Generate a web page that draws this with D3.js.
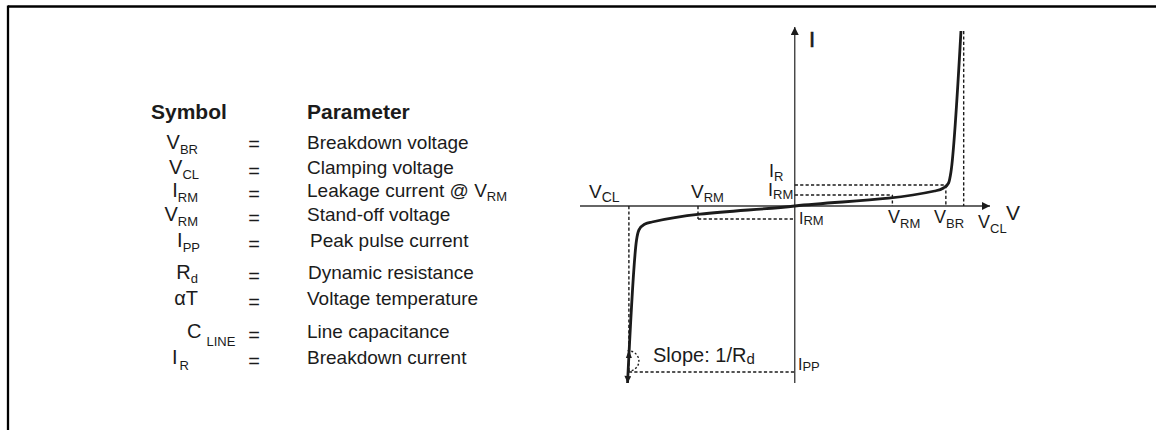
<!DOCTYPE html>
<html><head><meta charset="utf-8">
<script src="https://cdn.jsdelivr.net/npm/d3@7"></script>
<style>
html,body{margin:0;padding:0;background:#fff;}
svg{display:block;font-family:"Liberation Sans",Arial,Helvetica,sans-serif;}
</style></head><body>
<svg id="c" width="1156" height="430"></svg>
<script>
// ---------- table data ----------
const headers = ["Symbol", "Parameter"];
const symbolMain = ["V", "V", "I", "V", "I", "R", "\u03B1T", "C", "I"];
const symbolSub = ["BR", "CL", "RM", "RM", "PP", "d", "", "LINE", "R"];
const parameterText = ["Breakdown voltage", "Clamping voltage", "Leakage current @ V", "Stand-off voltage",
  "Peak pulse current", "Dynamic resistance", "Voltage temperature", "Line capacitance", "Breakdown current"];
const parameterSub = ["", "", "RM", "", "", "", "", "", ""];

// ---------- I-V characteristic (schematic) ----------
const curveV = [-9.85, -9.32, -9.18, -8.82, -8.41, 0, 8.24, 8.76, 9.06, 9.2, 9.79];
const curveI = [-17.7, -3.4, -2.4, -1.8, -1.6, 0, 1.5, 1.8, 2.3, 3.4, 17.5];

// voltage markers
const voltNames = ["V_CL", "V_RM", "V_RM", "V_BR", "V_CL"];
const voltValues = [-9.77, -5.7, 5.75, 8.9, 9.95];
// current markers
const currentNames = ["I_PP", "I_RM", "I_RM", "I_R", "I_MAX"];
const currentValues = [-16.6, -1.3, 1.1, 2.1, 17.5];

// ---------- layout ----------
const svg = d3.select("#c");
const x = d3.scaleLinear().domain([-12.65, 11.5]).range([580, 990]);
const y = d3.scaleLinear().domain([-17.7, 17.9]).range([383, 27]);
const INK = "#1b1b1b";

// frame
svg.append("line").attr("x1", 8).attr("x2", 1156).attr("y1", 6.5).attr("y2", 6.5)
  .attr("stroke", "#000").attr("stroke-width", 2.5);
svg.append("line").attr("x1", 8).attr("x2", 8).attr("y1", 5.5).attr("y2", 430)
  .attr("stroke", "#000").attr("stroke-width", 2.3);

// helper for subscripted text
function subText(g, px, py, main, sub, o) {
  o = Object.assign({size: 18, subSize: 12, dy: 4, anchor: "start", dx: 0, weight: "normal"}, o || {});
  const t = g.append("text").attr("x", px).attr("y", py).attr("text-anchor", o.anchor)
    .attr("font-size", o.size).attr("font-weight", o.weight).attr("fill", INK);
  t.append("tspan").text(main);
  if (sub) t.append("tspan").attr("font-size", o.subSize).attr("dy", o.dy).attr("dx", o.dx).text(sub);
  return t;
}

// ---------- table ----------
const tbl = svg.append("g");
const rowBase = [149, 174, 197, 221, 247, 279, 305, 338, 364];
tbl.append("text").attr("x", 151).attr("y", 119).attr("font-size", 21).attr("font-weight", "bold")
  .attr("fill", INK).text(headers[0]);
tbl.append("text").attr("x", 307).attr("y", 119).attr("font-size", 21).attr("font-weight", "bold")
  .attr("fill", INK).text(headers[1]);
const symLayout = [
  {x: 198, a: "end", dy: 5}, {x: 199, a: "end", dy: 5}, {x: 198, a: "end", dy: 5},
  {x: 198, a: "end", dy: 5}, {x: 200, a: "end", dy: 5}, {x: 198, a: "end", dy: 4},
  {x: 198, a: "end", dy: 0}, {x: 187, a: "start", dy: 8, dx: 5}, {x: 172, a: "start", dy: 6, dx: 2}
];
const paramX = [307, 307, 307, 307, 310, 308, 307, 307, 307];
symbolMain.forEach((s, i) => {
  const L = symLayout[i];
  subText(tbl, L.x, rowBase[i], s, symbolSub[i], {size: 20, subSize: 13, dy: L.dy, anchor: L.a, dx: L.dx || 0});
  tbl.append("text").attr("x", 254).attr("y", rowBase[i] + (i === 0 ? 2 : 4)).attr("text-anchor", "middle")
    .attr("font-size", 20).attr("fill", INK).text("=");
  subText(tbl, paramX[i], rowBase[i], parameterText[i], parameterSub[i], {size: 19, subSize: 13, dy: 4});
});

// ---------- chart ----------
const ch = svg.append("g");
const defs = svg.append("defs");
defs.append("marker").attr("id", "ah").attr("viewBox", "0 0 10 10").attr("refX", 10).attr("refY", 5)
  .attr("markerWidth", 10).attr("markerHeight", 8).attr("markerUnits", "userSpaceOnUse")
  .attr("orient", "auto-start-reverse")
  .append("path").attr("d", "M0,0L10,5L0,10Z").attr("fill", INK);
defs.append("marker").attr("id", "ahs").attr("viewBox", "0 0 10 10").attr("refX", 10).attr("refY", 5)
  .attr("markerWidth", 9).attr("markerHeight", 7).attr("markerUnits", "userSpaceOnUse")
  .attr("orient", "auto-start-reverse")
  .append("path").attr("d", "M0,0L10,5L0,10Z").attr("fill", INK);

// axes
ch.append("line").attr("x1", x(-12.65)).attr("x2", x(11.5)).attr("y1", y(0)).attr("y2", y(0))
  .attr("stroke", "#333").attr("stroke-width", 1.3).attr("marker-end", "url(#ah)");
ch.append("line").attr("x1", x(0)).attr("x2", x(0)).attr("y1", y(-17.7)).attr("y2", y(17.9))
  .attr("stroke", "#333").attr("stroke-width", 1.3).attr("marker-end", "url(#ah)");

// dashed reference lines
const dash = {stroke: INK, "stroke-width": 1.4, "stroke-dasharray": "3.2,2.2", fill: "none"};
function dline(x1, y1, x2, y2) {
  const l = ch.append("line").attr("x1", x1).attr("y1", y1).attr("x2", x2).attr("y2", y2);
  Object.entries(dash).forEach(([k, v]) => l.attr(k, v));
}
dline(x(voltValues[0]), y(0), x(voltValues[0]), y(currentValues[0]));
dline(x(voltValues[0]), y(currentValues[0]), x(0), y(currentValues[0]));
dline(x(voltValues[1]), y(0), x(voltValues[1]), y(currentValues[1]));
dline(x(voltValues[1]), y(currentValues[1]), x(0), y(currentValues[1]));
dline(x(0), y(currentValues[2]), x(voltValues[2]), y(currentValues[2]));
dline(x(voltValues[2]), y(currentValues[2]), x(voltValues[2]), y(0));
dline(x(0), y(currentValues[3]), x(voltValues[3]), y(currentValues[3]));
dline(x(voltValues[3]), y(currentValues[3]), x(voltValues[3]), y(0));
dline(x(voltValues[4]), y(currentValues[4]), x(voltValues[4]), y(0));

// characteristic curve
const pts = curveV.map((v, i) => [v, curveI[i]]);
const line = d3.line().x(d => x(d[0])).y(d => y(d[1])).curve(d3.curveMonotoneX);
ch.append("path").attr("d", line(pts)).attr("fill", "none").attr("stroke", INK)
  .attr("stroke-width", 2.8).attr("stroke-linejoin", "round").attr("marker-start", "url(#ahs)");

// slope indicator (dotted arc with up arrow)
const ax = x(voltValues[0]), ay = y(currentValues[0]) - 11;
const arc = d3.path();
arc.moveTo(ax, ay - 9);
arc.arc(ax, ay, 10, -Math.PI / 2 - 0.05, Math.PI / 2, false);
ch.append("path").attr("d", arc.toString()).attr("fill", "none").attr("stroke", INK)
  .attr("stroke-width", 1.4).attr("stroke-dasharray", "2,2");
ch.append("path").attr("d", `M${ax - 3},${ay - 3}L${ax},${ay - 11}L${ax + 3},${ay - 3}Z`).attr("fill", INK);

// labels
const lab = svg.append("g");
subText(lab, 589, 198, "V", "CL", {size: 19, subSize: 14, dy: 4});
subText(lab, 691, 198, "V", "RM", {size: 19, subSize: 13, dy: 4});
subText(lab, 769, 177, "I", "R", {size: 18, subSize: 13, dy: 4});
subText(lab, 768, 196, "I", "RM", {size: 18, subSize: 13, dy: 3});
subText(lab, 799, 224, "I", "RM", {size: 16, subSize: 13, dy: 1});
subText(lab, 888, 223, "V", "RM", {size: 18, subSize: 13, dy: 5});
subText(lab, 934, 223, "V", "BR", {size: 18, subSize: 13, dy: 5});
subText(lab, 978, 228, "V", "CL", {size: 18, subSize: 13, dy: 5});
subText(lab, 798, 370, "I", "PP", {size: 16, subSize: 13, dy: 1});
subText(lab, 653, 362, "Slope: 1/R", "d", {size: 20, subSize: 15, dy: 2});
lab.append("text").attr("x", 1006).attr("y", 220).attr("font-size", 21).attr("fill", INK).text("V");
lab.append("text").attr("x", 809).attr("y", 46.5).attr("font-size", 22).attr("fill", INK)
  .attr("stroke", INK).attr("stroke-width", 0.6).text("I");
</script>
</body></html>
